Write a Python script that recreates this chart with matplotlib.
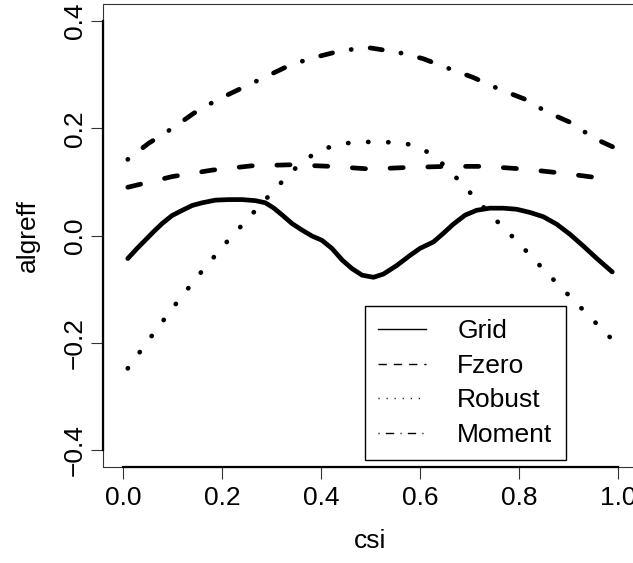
import matplotlib
matplotlib.use("Agg")
import matplotlib.pyplot as plt
from matplotlib.lines import Line2D
from matplotlib.patches import Rectangle

plt.rcParams['font.family'] = ['Liberation Sans', 'DejaVu Sans']

# values
grid_x = [0.010, 0.029, 0.045, 0.062, 0.079, 0.099, 0.120, 0.140, 0.160, 0.187, 0.214, 0.241,
          0.268, 0.288, 0.305, 0.322, 0.342, 0.362, 0.382, 0.402, 0.422, 0.443, 0.463, 0.483,
          0.506, 0.526, 0.553, 0.580, 0.600, 0.627, 0.647, 0.667, 0.691, 0.714, 0.741, 0.768,
          0.795, 0.822, 0.849, 0.876, 0.903, 0.930, 0.957, 0.988]
grid_y = [-0.043, -0.024, -0.009, 0.007, 0.022, 0.037, 0.047, 0.056, 0.061, 0.066, 0.067, 0.067,
          0.065, 0.061, 0.051, 0.038, 0.022, 0.010, -0.001, -0.009, -0.024, -0.046, -0.062, -0.074,
          -0.078, -0.072, -0.056, -0.037, -0.024, -0.012, 0.004, 0.021, 0.038, 0.047, 0.051, 0.051,
          0.049, 0.043, 0.035, 0.021, 0.002, -0.020, -0.043, -0.068]

fzero_x = [0.01, 0.10, 0.18, 0.26, 0.34, 0.42, 0.50, 0.575, 0.655, 0.73, 0.81, 0.89, 0.99]
fzero_y = [0.090, 0.110, 0.122, 0.130, 0.132, 0.129, 0.124, 0.127, 0.129, 0.129, 0.124, 0.116, 0.104]

robust_x = [0.01, 0.057, 0.105, 0.154, 0.205, 0.258, 0.311, 0.338, 0.369, 0.40, 0.44, 0.48,
            0.518, 0.558, 0.597, 0.63, 0.66, 0.687, 0.74, 0.796, 0.85, 0.906, 0.962, 0.99]
robust_y = [-0.248, -0.189, -0.130, -0.073, -0.017, 0.037, 0.090, 0.117, 0.142, 0.160, 0.171, 0.175,
            0.174, 0.174, 0.166, 0.147, 0.121, 0.094, 0.041, -0.011, -0.064, -0.117, -0.170, -0.196]

moment_x = [0.01, 0.052, 0.10, 0.143, 0.19, 0.24, 0.29, 0.34, 0.39, 0.446, 0.50, 0.555,
            0.606, 0.66, 0.707, 0.76, 0.81, 0.857, 0.906, 0.95, 0.99]
moment_y = [0.142, 0.172, 0.200, 0.228, 0.253, 0.275, 0.297, 0.319, 0.333, 0.346, 0.350, 0.342,
            0.330, 0.311, 0.295, 0.273, 0.255, 0.230, 0.210, 0.182, 0.165]

labels = ['Grid', 'Fzero', 'Robust', 'Moment']
x_ticks = [0.0, 0.2, 0.4, 0.6, 0.8, 1.0]
y_ticks = [-0.4, -0.2, 0.0, 0.2, 0.4]

# line types: thick curves, thin legend samples
curve_dashes = [None, (2.8, 5.2), (0.05, 4.2), (0.05, 4.0, 2.6, 4.0)]
legend_dashes = [None, (6, 5), (0.8, 5), (0.8, 4.5, 6, 4.5)]
lw = 3.4
fs = 19

fig = plt.figure(figsize=(6.33, 5.63), dpi=100)
ax = fig.add_axes([103/633, 96/563, 535/633, 463/563])

series = [(grid_x, grid_y), (fzero_x, fzero_y), (robust_x, robust_y), (moment_x, moment_y)]
for (xs, ys), st in zip(series, curve_dashes):
    line, = ax.plot(xs, ys, color='black', lw=lw, solid_capstyle='round',
                    dash_capstyle='round', solid_joinstyle='round')
    if st is not None:
        line.set_dashes(st)

ax.set_xlim(-0.04, 1.04)
ax.set_ylim(-0.432, 0.432)
ax.set_xticks(x_ticks)
ax.set_xticklabels(['%.1f' % v for v in x_ticks])
ax.set_yticks(y_ticks)
ax.set_yticklabels([('%.1f' % v).replace('-', '\u2212') for v in y_ticks],
                   rotation=90, va='center')

# R style: axis lines only between first and last ticks, thin box around
for s in ['top', 'right']:
    ax.spines[s].set_visible(False)
ax.spines['bottom'].set_bounds(0.0, 1.0)
ax.spines['left'].set_bounds(-0.4, 0.4)
ax.spines['bottom'].set_linewidth(1.6)
ax.spines['left'].set_linewidth(1.6)
ax.add_patch(Rectangle((0, 0), 1, 1, transform=ax.transAxes, fill=False,
                       edgecolor='#333333', lw=0.8, clip_on=False))
ax.tick_params(direction='out', length=8.5, width=0.8, labelsize=fs, color='#333333')
ax.tick_params(axis='x', pad=5)
ax.tick_params(axis='y', pad=3)

ax.set_xlabel('csi', fontsize=fs, labelpad=14)
ax.set_ylabel('algreff', fontsize=fs, labelpad=17)

handles = []
for st in legend_dashes:
    h = Line2D([], [], color='black', lw=1.0)
    if st is not None:
        h.set_dashes(st)
    handles.append(h)
leg = ax.legend(handles, labels, loc='upper left', bbox_to_anchor=(365/633, 1 - 306/563),
                bbox_transform=fig.transFigure, fontsize=fs, frameon=True, fancybox=False,
                edgecolor='black', framealpha=1, borderpad=0.5, labelspacing=0.4,
                handlelength=1.8, handletextpad=1.2, borderaxespad=0)
leg.get_frame().set_linewidth(1.0)

plt.savefig('out.png', dpi=100)
